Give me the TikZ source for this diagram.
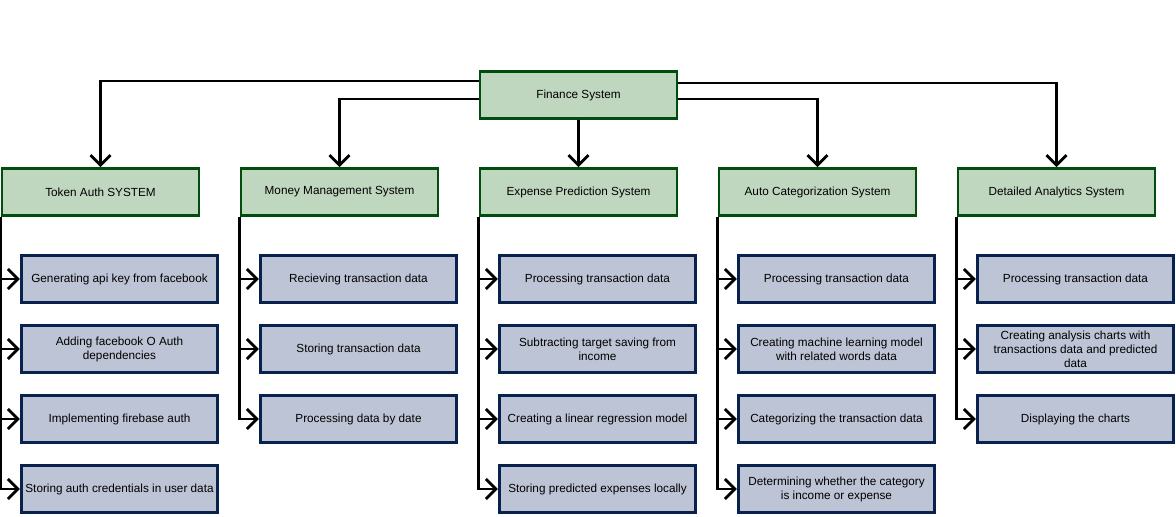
\documentclass[tikz,border=0pt]{standalone}
\usepackage{fontspec}
\setmainfont{Liberation Sans}
\usetikzlibrary{arrows.meta,positioning}
\definecolor{sysfill}{RGB}{191,214,191}
\definecolor{sysdraw}{RGB}{0,77,13}
\definecolor{taskfill}{RGB}{189,196,213}
\definecolor{taskdraw}{RGB}{8,33,77}
\tikzset{
  sys/.style={draw=sysdraw, fill=sysfill, line width=2.8bp, minimum width=197bp, minimum height=47bp, inner sep=1bp, font=\fontsize{11.8}{14}\selectfont},
  task/.style={draw=taskdraw, fill=taskfill, line width=2.8bp, minimum width=196.5bp, minimum height=47.5bp, inner sep=1bp, align=center, font=\fontsize{11.8}{14}\selectfont}
}

\begin{document}
\begin{tikzpicture}[x=1bp, y=1bp, node distance = 70bp, on grid, line width=2.8bp, >={Straight Barb[length=10bp,width=20bp]}]
   \useasboundingbox (0,0) rectangle (1176,-517);
   \node[sys] (s_0) at (100.5,-192) {Token Auth SYSTEM};
   \node[sys] (s_1) [right = 239bp of s_0] {Money Management System};
   \node[sys] (s_2) [right = 239bp of s_1] {Expense Prediction System};
   \node[sys] (s_3) [right = 239bp of s_2] {Auto Categorization System};
   \node[sys] (s_4) [right = 239bp of s_3] {Detailed Analytics System};
   \node[sys] (fin) [above = 97bp of s_2] {Finance System};

   \node[task] (t_1) [below right = 87bp and 19bp of s_0] {Generating api key from facebook};
   \node[task] (t_2) [below = of t_1] {Adding facebook O Auth\\dependencies};
   \node[task] (t_3) [below = of t_2] {Implementing firebase auth};
   \node[task] (t_4) [below = of t_3] {Storing auth credentials in user data};

   \node[task] (m_1) [below right = 87bp and 19bp of s_1] {Recieving transaction data};
   \node[task] (m_2) [below = of m_1] {Storing transaction data};
   \node[task] (m_3) [below = of m_2] {Processing data by date};

   \node[task] (e_1) [below right = 87bp and 19bp of s_2] {Processing transaction data};
   \node[task] (e_2) [below = of e_1] {Subtracting target saving from\\income};
   \node[task] (e_3) [below = of e_2] {Creating a linear regression model};
   \node[task] (e_4) [below = of e_3] {Storing predicted expenses locally};

   \node[task] (a_1) [below right = 87bp and 19bp of s_3] {Processing transaction data};
   \node[task] (a_2) [below = of a_1] {Creating machine learning model\\with related words data};
   \node[task] (a_3) [below = of a_2] {Categorizing the transaction data};
   \node[task] (a_4) [below = of a_3] {Determining whether the category\\is income or expense};

   \node[task] (d_1) [below right = 87bp and 19bp of s_4] {Processing transaction data};
   \node[task] (d_2) [below = of d_1] {Creating analysis charts with\\transactions data and predicted\\data};
   \node[task] (d_3) [below = of d_2] {Displaying the charts};

   \draw[->] ([yshift=14bp]fin.west) -| (s_0.north);
   \draw[->] ([yshift=-4bp]fin.west) -| (s_1.north);
   \path[->] (fin) edge (s_2);
   \draw[->] ([yshift=-4bp]fin.east) -| (s_3.north);
   \draw[->] ([yshift=12bp]fin.east) -| (s_4.north);

   \draw[->] (s_0.south west) |- (t_1);
   \draw[->] (s_0.south west) |- (t_2);
   \draw[->] (s_0.south west) |- (t_3);
   \draw[->] (s_0.south west) |- (t_4);
   \draw[->] (s_1.south west) |- (m_1);
   \draw[->] (s_1.south west) |- (m_2);
   \draw[->] (s_1.south west) |- (m_3);
   \draw[->] (s_2.south west) |- (e_1);
   \draw[->] (s_2.south west) |- (e_2);
   \draw[->] (s_2.south west) |- (e_3);
   \draw[->] (s_2.south west) |- (e_4);
   \draw[->] (s_3.south west) |- (a_1);
   \draw[->] (s_3.south west) |- (a_2);
   \draw[->] (s_3.south west) |- (a_3);
   \draw[->] (s_3.south west) |- (a_4);
   \draw[->] (s_4.south west) |- (d_1);
   \draw[->] (s_4.south west) |- (d_2);
   \draw[->] (s_4.south west) |- (d_3);
\end{tikzpicture}
\end{document}
